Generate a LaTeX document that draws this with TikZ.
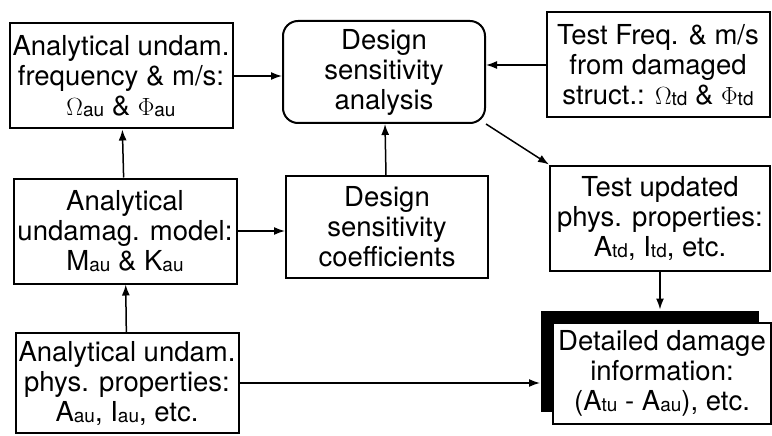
\documentclass[tikz,border=0pt]{standalone}
\usepackage{fontspec}
\setmainfont{TeX Gyre Heros}
\usetikzlibrary{arrows.meta,positioning,shadows}
\newcommand{\lo}[1]{\raisebox{-1.5pt}{\fontsize{19}{19}\selectfont #1}}

\begin{document}
\begin{tikzpicture}[
  x=1pt,y=-1pt,>={Latex[length=11pt,width=8pt]},
  box/.style={draw,line width=2pt,minimum width=223pt,minimum height=105pt,align=center,inner sep=1pt,font=\fontsize{27.5}{30}\selectfont},
  core/.style={box,minimum width=202pt,minimum height=102pt},
  link/.style={->,line width=1.5pt}
]
  \useasboundingbox (0,0) rectangle (772,436);
  % top row
  \node[box] (freq) at (121,76) {Analytical undam.\\frequency \& m/s:\\$\Omega$\lo{au} \& $\Phi$\lo{au}};
  \node[core,rounded corners=15pt] (dsa) at (384,72) {Design\\sensitivity\\analysis};
  \node[box] (test) at (658,65) {Test Freq. \& m/s\\from damaged\\struct.: $\Omega$\lo{td} \& $\Phi$\lo{td}};
  % middle row
  \node[box] (model) at (125,231) {Analytical\\undamag. model:\\M\lo{au} \& K\lo{au}};
  \node[core] (coef) at (387,227) {Design\\sensitivity\\coefficients};
  \node[box,minimum width=220pt] (upd) at (660,218) {Test updated\\phys. properties:\\A\lo{td}, I\lo{td}, etc.};
  % bottom row
  \node[box,minimum height=100pt] (props) at (127,383) {Analytical undam.\\phys. properties:\\A\lo{au}, I\lo{au}, etc.};
  \node[box,minimum width=218pt,minimum height=101pt,fill=white,
    drop shadow={shadow xshift=-12pt,shadow yshift=12pt,fill=black,opacity=1}] (dmg) at (662,373)
    {Detailed damage\\information:\\(A\lo{tu} - A\lo{au}), etc.};

  \draw[link] (freq) -- (freq -| dsa.west);
  \draw[link] (test.west) -- (test.west -| dsa.east);
  \draw[link] (model) -- (freq);
  \draw[link] (props) -- (model);
  \draw[link] (model) -- (model -| coef.west);
  \draw[link] (coef) -- (dsa);
  \draw[link] (dsa.south east) -- (upd.north west);
  % arrows into the damage box stop at its shadow
  \draw[link] (upd) -- ([yshift=12pt]upd |- dmg.north);
  \draw[link] (props) -- ([xshift=-12pt]props -| dmg.west);
\end{tikzpicture}
\end{document}
